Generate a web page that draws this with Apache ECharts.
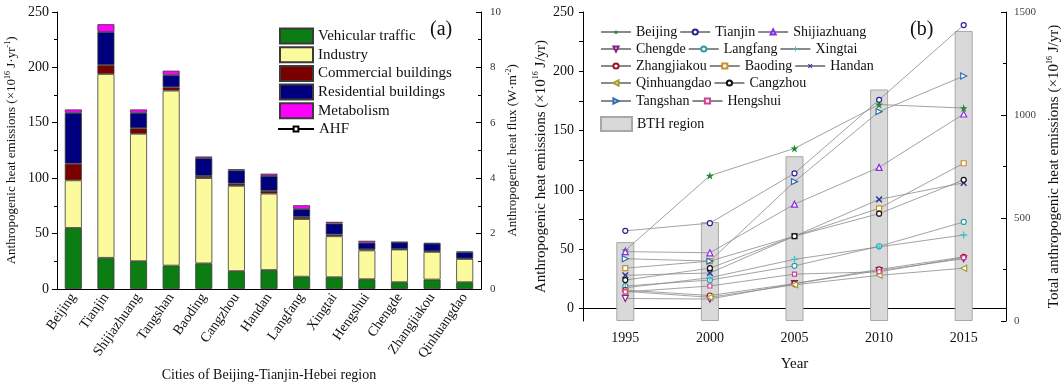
<!DOCTYPE html>
<html><head><meta charset="utf-8">
<script src="https://cdn.jsdelivr.net/npm/echarts@6/dist/echarts.min.js"></script>
<style>html,body{margin:0;padding:0;background:#fff}#c{width:1064px;height:387px}</style>
</head><body><div id="c"></div>
<script>
// ---------- Panel (a) data ----------
const cities = ['Beijing','Tianjin','Shijiazhuang','Tangshan','Baoding','Cangzhou','Handan','Langfang','Xingtai','Hengshui','Chengde','Zhangjiakou','Qinhuangdao'];
const vehicular   = [55, 28, 25, 21, 23, 16, 17, 11, 10.5, 8.7, 6, 8.4, 6];
const industry    = [43, 166, 115, 158, 77, 77, 69, 52, 37, 26, 29.5, 25, 21];
const commercial  = [15, 8, 5, 3, 2, 2, 2.5, 2, 1.5, 1, 0.5, 0.5, 0.5];
const residential = [46, 30, 14, 11, 16, 12, 13.5, 7, 10, 6, 6, 7, 5.5];
const metabolism  = [3, 7, 3, 4, 1.5, 1, 2, 3.5, 1.5, 1.7, 0.3, 0.4, 0.7];
const leftTicks  = [0, 50, 100, 150, 200, 250];
const fluxTicks  = [0, 2, 4, 6, 8, 10];

// ---------- Panel (b) data ----------
const years = ['1995', '2000', '2005', '2010', '2015'];
const beijing      = [49, 112, 135, 172, 169];
const tianjin      = [65.5, 72, 114, 176, 239];
const shijiazhuang = [48, 47, 88, 119, 164];
const chengde      = [8.5, 8, 21, 32, 42];
const langfang     = [19, 24, 36, 52.5, 73];
const xingtai      = [17.5, 26, 41.5, 52, 62];
const zhangjiakou  = [15.5, 11, 21, 33, 43.5];
const baoding      = [34, 40, 61, 84.5, 122.5];
const handan       = [28, 30, 61, 92, 106];
const qinhuangdao  = [14.5, 9.5, 20, 28, 34];
const cangzhou     = [24, 34, 61, 80, 108.5];
const tangshan     = [42, 40, 107, 166, 196];
const hengshui     = [14, 19, 29, 31, 43];
const bthRegion    = [383, 480, 800, 1124, 1408];
const emisLabelTicks = [0, 50, 100, 150, 200, 250];
const emisTicks = [0, 25, 50, 75, 100, 125, 150, 175, 200, 225, 250];

const FONT = 'Liberation Serif';
const TXT = '#111';

const STAR = 'path://M5,0L6.18,3.62L10,3.62L6.91,5.86L8.09,9.48L5,7.24L1.91,9.48L3.09,5.86L0,3.62L3.82,3.62Z';
const PLUS = 'path://M4.1,0H5.9V4.1H10V5.9H5.9V10H4.1V5.9H0V4.1H4.1Z';

const lineDefs = [
  ['Beijing', beijing,           {symbol: STAR, size: 8, color: '#1c8a2c', fill: '#1c8a2c', bw: 0}],
  ['Tianjin', tianjin,           {symbol: 'circle', size: 5, color: '#25258f', fill: '#fff', bw: 1.2}],
  ['Shijiazhuang', shijiazhuang, {symbol: 'triangle', size: 6, color: '#8a2be2', fill: '#fff', bw: 1.2}],
  ['Chengde', chengde,           {symbol: 'triangle', rotate: 180, size: 6, color: '#8b1c8b', fill: '#fff', bw: 1.2}],
  ['Langfang', langfang,         {symbol: 'circle', size: 5, color: '#2a9ea8', fill: '#fff', bw: 1.2}],
  ['Xingtai', xingtai,           {symbol: PLUS, size: 7, color: '#3fbfc8', fill: '#3fbfc8', bw: 0}],
  ['Zhangjiakou', zhangjiakou,   {symbol: 'circle', size: 5, color: '#a0102a', fill: '#fff', bw: 1.2}],
  ['Baoding', baoding,           {symbol: 'rect', size: 5, color: '#c8902c', fill: '#fff', bw: 1.2}],
  ['Handan', handan,             {symbol: PLUS, rotate: 45, size: 8, color: '#2f2f9a', fill: '#2f2f9a', bw: 0}],
  ['Qinhuangdao', qinhuangdao,   {symbol: 'triangle', rotate: 90, size: 6, color: '#a0a030', fill: '#fff', bw: 1.2}],
  ['Cangzhou', cangzhou,         {symbol: 'circle', size: 5, color: '#111', fill: '#fff', bw: 1.2}],
  ['Tangshan', tangshan,         {symbol: 'triangle', rotate: -90, size: 6, color: '#2f6fae', fill: '#fff', bw: 1.2}],
  ['Hengshui', hengshui,         {symbol: 'rect', size: 4, color: '#d0409a', fill: '#fff', bw: 1.2}]
];

const legendRows = [
  ['Beijing', 'Tianjin', 'Shijiazhuang'],
  ['Chengde', 'Langfang', 'Xingtai'],
  ['Zhangjiakou', 'Baoding', 'Handan'],
  ['Qinhuangdao', 'Cangzhou'],
  ['Tangshan', 'Hengshui']
];
const legendTops = [25, 42, 59, 76, 94];

const axisBlack = {lineStyle: {color: '#000', width: 1}};
const sup = {s: {fontSize: 8, lineHeight: 8, verticalAlign: 'top', fontFamily: FONT, color: TXT}};

const series = [];
const barStyle = (c) => ({color: c, borderColor: '#3a3a3a', borderWidth: 0.8});
const barDefs = [['Vehicular traffic', vehicular, '#0b7d12'],
 ['Industry', industry, '#fbfa9c'],
 ['Commercial buildings', commercial, '#7a0000'],
 ['Residential buildings', residential, '#00007f'],
 ['Metabolism', metabolism, '#ff00ff']];
barDefs.forEach(([n, d, c]) => {
  series.push({name: n, type: 'bar', stack: 'a', xAxisIndex: 0, yAxisIndex: 0, barWidth: 17, data: d, itemStyle: barStyle(c)});
});
series.push({name: 'AHF', type: 'line', xAxisIndex: 0, yAxisIndex: 1, data: [], symbol: 'rect', symbolSize: 6,
  lineStyle: {color: '#000', width: 1}, itemStyle: {color: '#fff', borderColor: '#000', borderWidth: 1}});

series.push({name: 'BTH region', type: 'bar', xAxisIndex: 2, yAxisIndex: 3, barWidth: 18, data: bthRegion, z: 1,
  itemStyle: {color: '#d9d9d9', borderColor: '#a8a8a8', borderWidth: 1}});
lineDefs.forEach(([n, d, s]) => {
  series.push({name: n, type: 'line', xAxisIndex: 2, yAxisIndex: 2, data: d, z: 3,
    symbol: s.symbol, symbolSize: s.size, symbolRotate: s.rotate || 0, showAllSymbol: true,
    lineStyle: {color: '#8a8a8a', width: 0.8},
    itemStyle: {color: s.fill, borderColor: s.color, borderWidth: s.bw}});
});

const legends = [{
  orient: 'vertical', left: 279, top: 27.5, padding: 0, itemWidth: 33, itemHeight: 15, itemGap: 1.7, selectedMode: false,
  textStyle: {fontSize: 15, lineHeight: 15, fontFamily: FONT, color: TXT},
  data: barDefs.map(b => ({name: b[0], icon: 'rect'}))
}, {
  orient: 'vertical', left: 277, top: 121.5, padding: 0, itemWidth: 36, itemHeight: 6, selectedMode: false,
  textStyle: {fontSize: 15, lineHeight: 15, fontFamily: FONT, color: TXT},
  data: ['AHF']
}];
legendRows.forEach((row, i) => {
  legends.push({orient: 'horizontal', left: 600, top: legendTops[i], padding: 0, itemWidth: 30, itemHeight: 6.5, itemGap: 2,
    selectedMode: false, textStyle: {fontSize: 14, lineHeight: 14, fontFamily: FONT, color: TXT}, data: row});
});
legends.push({orient: 'horizontal', left: 600, top: 116, padding: 0, itemWidth: 31, itemHeight: 14, selectedMode: false,
  textStyle: {fontSize: 14, lineHeight: 14, fontFamily: FONT, color: TXT}, data: [{name: 'BTH region', icon: 'rect'}]});

const option = {
  animation: false,
  textStyle: {fontFamily: FONT, color: TXT},
  title: [
    {text: '(a)', left: 430, top: 20, padding: 0, textStyle: {fontFamily: FONT, fontSize: 20, fontWeight: 'normal', color: TXT}},
    {text: '(b)', left: 910, top: 20, padding: 0, textStyle: {fontFamily: FONT, fontSize: 20, fontWeight: 'normal', color: TXT}}
  ],
  legend: legends,
  grid: [
    {left: 57, top: 12, width: 424, height: 288},
    {left: 583, top: 12, width: 424, height: 309}
  ],
  xAxis: [
    {gridIndex: 0, type: 'category', data: cities, axisLine: axisBlack,
     axisTick: {interval: 0, length: 4, lineStyle: {color: '#000'}},
     axisLabel: {interval: 0, rotate: 55, margin: 6, fontSize: 14, color: TXT, fontFamily: FONT},
     name: 'Cities of Beijing-Tianjin-Hebei region', nameLocation: 'middle', nameGap: 66,
     nameTextStyle: {fontSize: 14, fontFamily: FONT, color: TXT}},
    {gridIndex: 0, type: 'category', data: cities, position: 'top', axisLine: axisBlack,
     axisTick: {show: false}, axisLabel: {show: false}},
    {gridIndex: 1, type: 'category', data: years, axisLine: axisBlack,
     axisTick: {interval: 0, length: 5, lineStyle: {color: '#000'}},
     axisLabel: {margin: 10, fontSize: 14, color: TXT, fontFamily: FONT},
     name: 'Year', nameLocation: 'middle', nameGap: 36, nameTextStyle: {fontSize: 15, fontFamily: FONT, color: TXT}}
  ],
  yAxis: [
    {gridIndex: 0, type: 'value', min: 0, max: 250, interval: 50,
     axisLine: {show: true, lineStyle: {color: '#000'}},
     axisTick: {show: true, length: 5, lineStyle: {color: '#000'}},
     minorTick: {show: true, splitNumber: 2, length: 3, lineStyle: {color: '#000'}},
     splitLine: {show: false},
     axisLabel: {margin: 8, fontSize: 14, color: TXT, fontFamily: FONT, customValues: leftTicks},
     name: 'Anthropogenic heat emissions (×10{s|16} J·yr{s|-1})', nameLocation: 'middle', nameRotate: 90, nameGap: 38,
     nameTextStyle: {fontSize: 13, lineHeight: 15, fontFamily: FONT, color: TXT, rich: sup}},
    {gridIndex: 0, type: 'value', position: 'right', min: 0, max: 10, interval: 2,
     axisLine: {show: true, lineStyle: {color: '#000'}},
     axisTick: {show: true, inside: true, length: 5, lineStyle: {color: '#000'}},
     minorTick: {show: true, splitNumber: 2, length: 3, lineStyle: {color: '#000'}},
     splitLine: {show: false},
     axisLabel: {margin: 9, fontSize: 11, color: '#333', fontFamily: FONT, customValues: fluxTicks},
     name: 'Anthropogenic heat flux (W·m{s|-2})', nameLocation: 'middle', nameRotate: 90, nameGap: 24,
     nameTextStyle: {fontSize: 13, lineHeight: 15, fontFamily: FONT, color: TXT, rich: sup}},
    {gridIndex: 1, type: 'value', min: -10.5, max: 250,
     axisLine: {show: true, lineStyle: {color: '#000'}},
     axisTick: {show: true, length: 4, lineStyle: {color: '#000'}, customValues: emisTicks},
     splitLine: {show: false},
     axisLabel: {margin: 9, fontSize: 14, color: TXT, fontFamily: FONT, customValues: emisLabelTicks},
     name: 'Anthropogenic heat emissions (×10{s|16} J/yr)', nameLocation: 'middle', nameRotate: 90, nameGap: 24,
     nameTextStyle: {fontSize: 15, lineHeight: 17, fontFamily: FONT, color: TXT, rich: sup}},
    {gridIndex: 1, type: 'value', position: 'right', min: 0, max: 1500, interval: 500,
     axisLine: {show: true, lineStyle: {color: '#000'}},
     axisTick: {show: true, inside: true, length: 5, lineStyle: {color: '#000'}},
     minorTick: {show: true, splitNumber: 2, length: 3, lineStyle: {color: '#000'}},
     splitLine: {show: false},
     axisLabel: {margin: 8, fontSize: 11, color: '#444', fontFamily: FONT, formatter: v => String(v)},
     name: 'Total anthropogenic heat emissions (×10{s|16} J/yr)', nameLocation: 'middle', nameRotate: 90, nameGap: 40,
     nameTextStyle: {fontSize: 15, lineHeight: 17, fontFamily: FONT, color: TXT, rich: sup}}
  ],
  series: series
};
const chart = echarts.init(document.getElementById('c'), null, {renderer: 'canvas'});
chart.setOption(option);
</script></body></html>
